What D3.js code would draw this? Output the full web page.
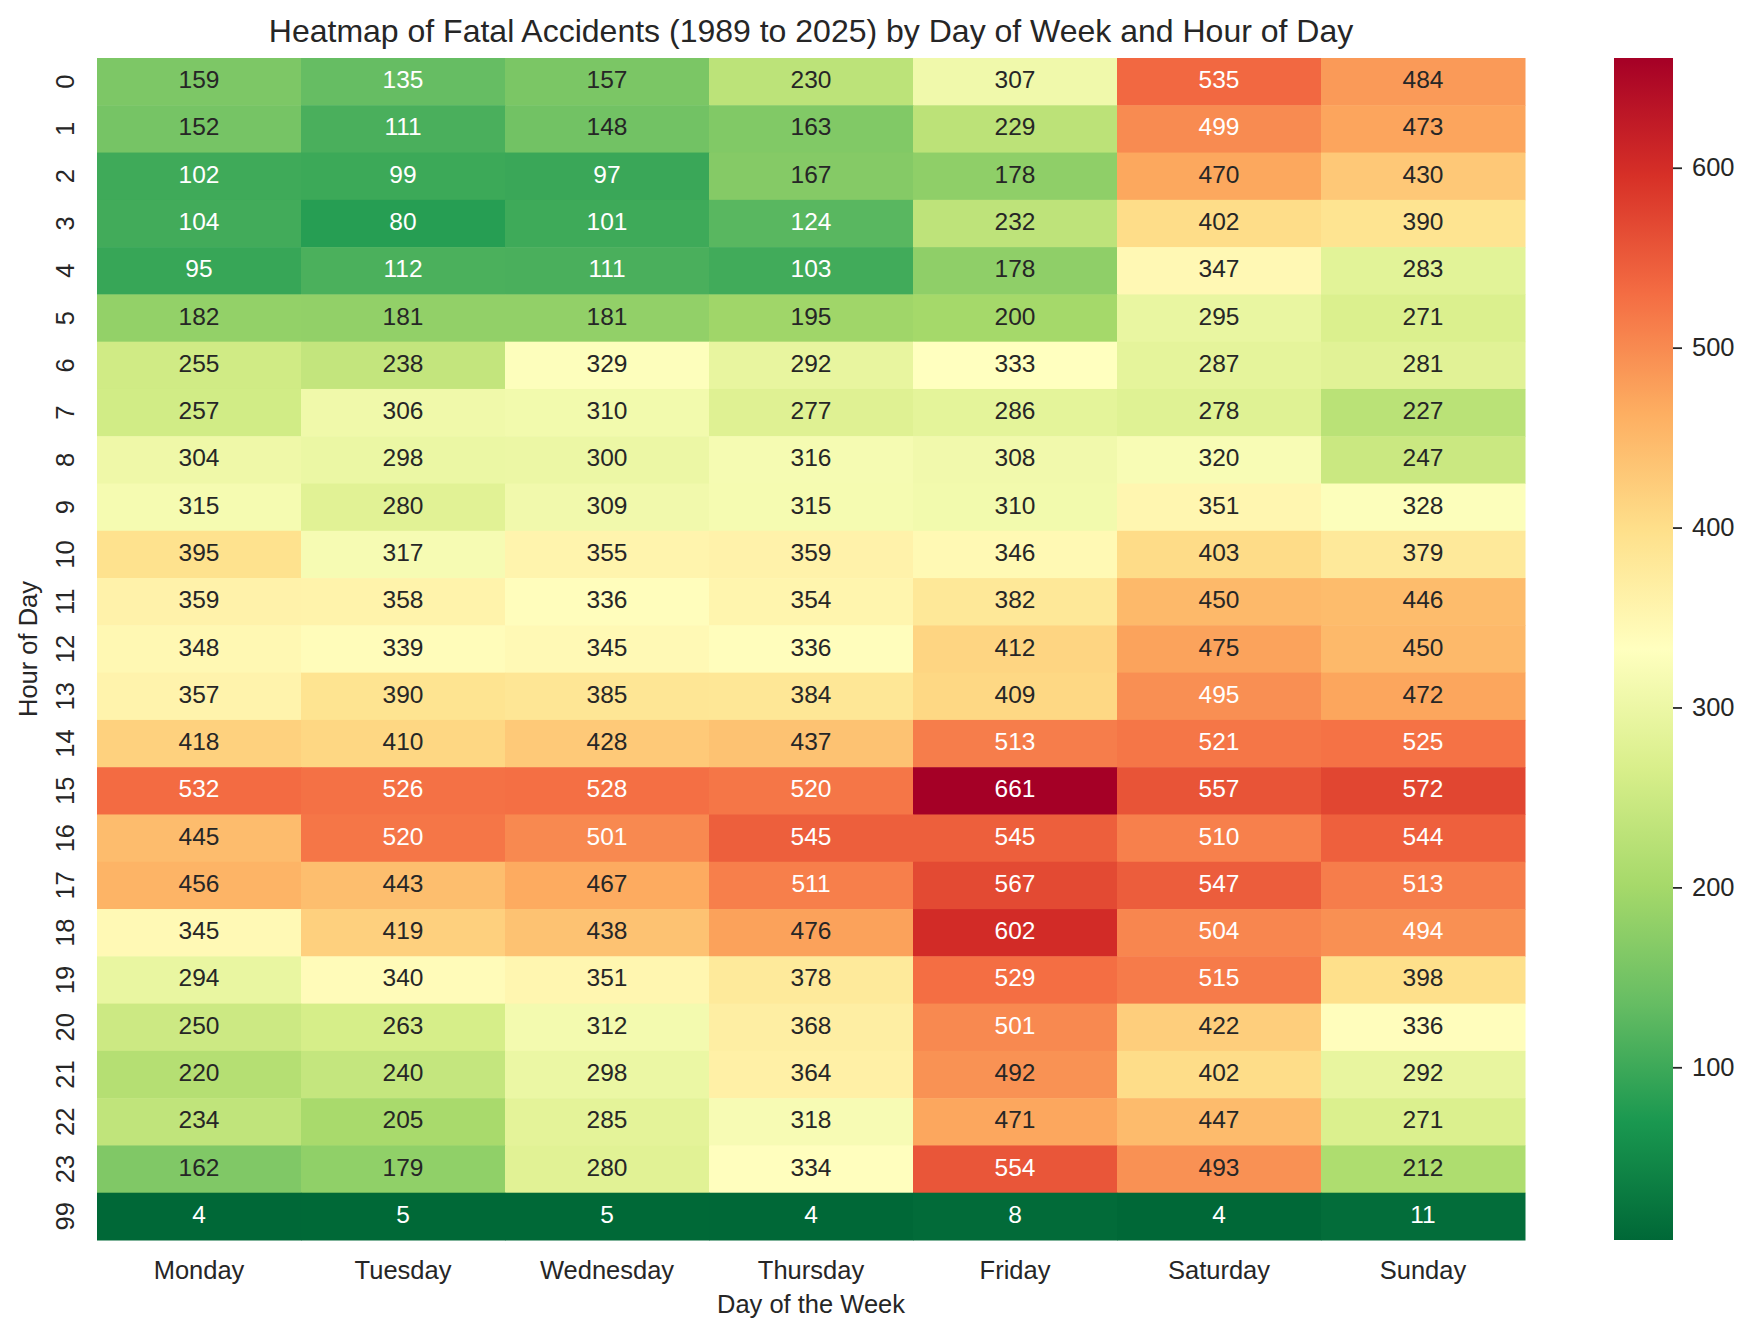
<!DOCTYPE html>
<html>
<head>
<meta charset="utf-8">
<title>Heatmap of Fatal Accidents</title>
<script src="https://d3js.org/d3.v7.min.js"></script>
<style>
  body { margin: 0; background: #fff; }
  svg text { font-family: "Liberation Sans", Arial, sans-serif; fill: #262626; }
</style>
</head>
<body>
<div id="chart"></div>
<script>
// data
var days = ["Monday", "Tuesday", "Wednesday", "Thursday", "Friday", "Saturday", "Sunday"]
var hours = ["0","1","2","3","4","5","6","7","8","9","10","11","12","13","14","15","16","17","18","19","20","21","22","23","99"]
var counts = [
  [159,135,157,230,307,535,484],
  [152,111,148,163,229,499,473],
  [102,99,97,167,178,470,430],
  [104,80,101,124,232,402,390],
  [95,112,111,103,178,347,283],
  [182,181,181,195,200,295,271],
  [255,238,329,292,333,287,281],
  [257,306,310,277,286,278,227],
  [304,298,300,316,308,320,247],
  [315,280,309,315,310,351,328],
  [395,317,355,359,346,403,379],
  [359,358,336,354,382,450,446],
  [348,339,345,336,412,475,450],
  [357,390,385,384,409,495,472],
  [418,410,428,437,513,521,525],
  [532,526,528,520,661,557,572],
  [445,520,501,545,545,510,544],
  [456,443,467,511,567,547,513],
  [345,419,438,476,602,504,494],
  [294,340,351,378,529,515,398],
  [250,263,312,368,501,422,336],
  [220,240,298,364,492,402,292],
  [234,205,285,318,471,447,271],
  [162,179,280,334,554,493,212],
  [4,5,5,4,8,4,11]
]
var cbarTicks = [100, 200, 300, 400, 500, 600]
// RdYlGn, reversed (green = low, red = high)
var rdylgn_r = ["#006837","#1a9850","#66bd63","#a6d96a","#d9ef8b","#ffffbf","#fee08b","#fdae61","#f46d43","#d73027","#a50026"]

var W = 1755, H = 1337
var plotL = 97, plotR = 1525, plotT = 58, plotB = 1240

var svg = d3.select("#chart").append("svg")
  .attr("width", W).attr("height", H)

var cells = []
hours.forEach(function (h, i) {
  days.forEach(function (d, j) {
    cells.push({ hour: h, day: d, value: counts[i][j] })
  })
})

var vmin = d3.min(cells, function (c) { return c.value })
var vmax = d3.max(cells, function (c) { return c.value })

var x = d3.scaleBand().domain(days).range([plotL, plotR])
var y = d3.scaleBand().domain(hours).range([plotT, plotB])

var stops = rdylgn_r.map(function (c, k) { return vmin + (vmax - vmin) * k / (rdylgn_r.length - 1) })
var color = d3.scaleLinear().domain(stops).range(rdylgn_r).interpolate(d3.interpolateRgb).clamp(true)

function lum(c) {
  var rgb = d3.rgb(c)
  var f = function (v) { v = v / 255; return v <= 0.03928 ? v / 12.92 : Math.pow((v + 0.055) / 1.055, 2.4) }
  return 0.2126 * f(rgb.r) + 0.7152 * f(rgb.g) + 0.0722 * f(rgb.b)
}

// cells
svg.append("g").selectAll("rect").data(cells).join("rect")
  .attr("x", function (c) { return x(c.day) })
  .attr("y", function (c) { return y(c.hour) })
  .attr("width", x.bandwidth() + 0.5)
  .attr("height", y.bandwidth() + 0.5)
  .attr("fill", function (c) { return color(c.value) })

svg.append("g").selectAll("text").data(cells).join("text")
  .attr("x", function (c) { return x(c.day) + x.bandwidth() / 2 })
  .attr("y", function (c) { return y(c.hour) + y.bandwidth() / 2 - 2 })
  .attr("text-anchor", "middle")
  .attr("dominant-baseline", "central")
  .style("font-size", "24.5px")
  .style("fill", function (c) { return lum(color(c.value)) > 0.408 ? "#262626" : "#ffffff" })
  .text(function (c) { return c.value })

// x axis
var xAxis = svg.append("g")
  .attr("transform", "translate(0," + plotB + ")")
  .call(d3.axisBottom(x).tickSize(0).tickPadding(0))
xAxis.select(".domain").remove()
xAxis.selectAll("text")
  .attr("y", 39).attr("dy", null)
  .style("font-size", "25.5px")

// y axis, labels rotated
var yAxis = svg.append("g")
  .attr("transform", "translate(" + plotL + ",0)")
  .call(d3.axisLeft(y).tickSize(0).tickPadding(0))
yAxis.select(".domain").remove()
yAxis.selectAll("text")
  .attr("x", null).attr("dy", null)
  .attr("text-anchor", "middle")
  .attr("transform", "translate(-23,0) rotate(-90)")
  .style("font-size", "25.5px")

// axis titles
svg.append("text")
  .attr("x", (plotL + plotR) / 2).attr("y", 1313)
  .attr("text-anchor", "middle")
  .style("font-size", "25.5px")
  .text("Day of the Week")

svg.append("text")
  .attr("transform", "translate(37," + (plotT + plotB) / 2 + ") rotate(-90)")
  .attr("text-anchor", "middle")
  .style("font-size", "25.5px")
  .text("Hour of Day")

svg.append("text")
  .attr("x", (plotL + plotR) / 2).attr("y", 42)
  .attr("text-anchor", "middle")
  .style("font-size", "32px")
  .text("Heatmap of Fatal Accidents (1989 to 2025) by Day of Week and Hour of Day")

// colorbar
var cbx = 1614, cbw = 59
var cy = d3.scaleLinear().domain([vmin, vmax]).range([plotB, plotT])

var grad = svg.append("defs").append("linearGradient")
  .attr("id", "cbar").attr("x1", 0).attr("y1", 1).attr("x2", 0).attr("y2", 0)
grad.selectAll("stop").data(stops).join("stop")
  .attr("offset", function (s) { return (s - vmin) / (vmax - vmin) })
  .attr("stop-color", function (s) { return color(s) })

svg.append("rect")
  .attr("x", cbx).attr("y", plotT)
  .attr("width", cbw).attr("height", plotB - plotT)
  .attr("fill", "url(#cbar)")

var cAxis = svg.append("g")
  .attr("transform", "translate(" + (cbx + cbw) + ",0)")
  .call(d3.axisRight(cy).tickValues(cbarTicks).tickSize(9).tickPadding(10))
cAxis.select(".domain").remove()
cAxis.selectAll("line").attr("stroke", "#262626").attr("stroke-width", 1.8)
cAxis.selectAll("text").style("font-size", "25.5px")
</script>
</body>
</html>
